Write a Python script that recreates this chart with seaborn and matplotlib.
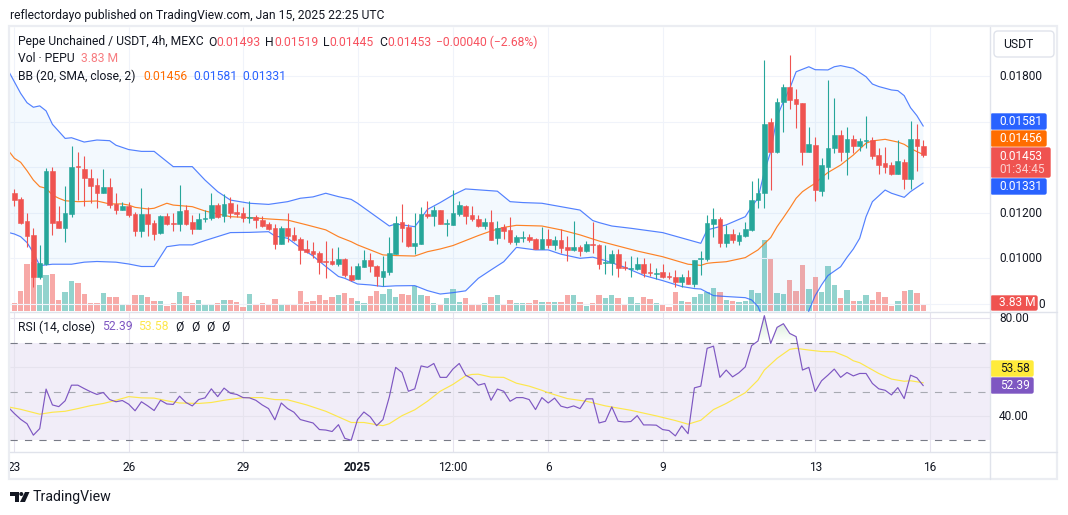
import matplotlib
matplotlib.use("Agg")
import matplotlib.pyplot as plt
from matplotlib.patches import FancyBboxPatch, Polygon, Rectangle, Circle
from matplotlib.path import Path
from matplotlib.transforms import ScaledTranslation
import numpy as np
import pandas as pd
import seaborn as sns

# OHLC per 4h bar, in units of 0.00001 USDT
opens = [
    1286, 1261, 1164, 1103, 920, 975, 1384, 1164, 1135, 1196, 1405, 1393, 1353, 1322, 1289, 1314, 1239, 1214, 1229, 1195,
    1122, 1195, 1155, 1110, 1186, 1157, 1149, 1213, 1160, 1130, 1171, 1176, 1234, 1186, 1243, 1204, 1199, 1179, 1183, 1169,
    1152, 1135, 1063, 1135, 1103, 1085, 1043, 1032, 1024, 988, 988, 974, 997, 927, 911, 962, 993, 966, 918, 941,
    1021, 1160, 1136, 1054, 1065, 1195, 1186, 1212, 1151, 1148, 1195, 1230, 1191, 1173, 1142, 1160, 1089, 1136, 1125, 1072,
    1091, 1094, 1085, 1041, 1085, 1059, 1081, 1050, 1037, 1050, 1032, 1062, 1059, 981, 978, 1019, 962, 955, 952, 975,
    939, 933, 940, 922, 918, 896, 918, 887, 999, 996, 1151, 1173, 1067, 1106, 1076, 1098, 1125, 1256, 1289, 1598,
    1466, 1686, 1753, 1700, 1683, 1469, 1497, 1297, 1402, 1485, 1541, 1469, 1525, 1495, 1517, 1519, 1454, 1419, 1410, 1371,
    1423, 1349, 1525, 1493]
highs = [
    1305, 1268, 1198, 1132, 1059, 1396, 1400, 1230, 1318, 1494, 1469, 1450, 1393, 1355, 1393, 1352, 1289, 1249, 1249, 1205,
    1309, 1227, 1169, 1191, 1198, 1198, 1322, 1234, 1191, 1198, 1213, 1289, 1242, 1281, 1268, 1239, 1227, 1252, 1191, 1186,
    1161, 1151, 1142, 1201, 1139, 1095, 1081, 1073, 1032, 1076, 1047, 1051, 1000, 966, 978, 1037, 1025, 971, 1010, 1092,
    1186, 1239, 1151, 1198, 1227, 1252, 1230, 1212, 1173, 1300, 1252, 1234, 1230, 1191, 1176, 1212, 1166, 1151, 1180, 1103,
    1122, 1107, 1088, 1139, 1129, 1098, 1128, 1098, 1164, 1059, 1076, 1161, 1062, 1057, 1037, 1040, 988, 1010, 1007, 1003,
    981, 959, 974, 940, 949, 931, 949, 993, 1032, 1190, 1223, 1180, 1147, 1129, 1117, 1161, 1341, 1352, 1872, 1615,
    1703, 1765, 1894, 1744, 1683, 1576, 1533, 1440, 1784, 1703, 1566, 1576, 1542, 1530, 1626, 1535, 1486, 1491, 1422, 1520,
    1435, 1604, 1590, 1519]
lows = [
    1232, 1151, 1051, 876, 909, 971, 1103, 1132, 1073, 1183, 1256, 1232, 1242, 1223, 1286, 1223, 1196, 1211, 1182, 1100,
    1095, 1100, 1082, 1107, 1147, 1120, 1122, 1147, 1107, 1129, 1161, 1169, 1179, 1161, 1176, 1183, 1161, 1154, 1132, 1139,
    1125, 1041, 1062, 1073, 1076, 975, 1022, 1000, 930, 912, 971, 968, 920, 900, 908, 961, 941, 878, 878, 928,
    1019, 1073, 1051, 1019, 1063, 1176, 1142, 1151, 1098, 1147, 1188, 1151, 1166, 1136, 1129, 1081, 1063, 1084, 1063, 1059,
    1070, 1073, 1040, 1040, 1047, 1037, 1025, 990, 1031, 1010, 1029, 1022, 953, 931, 927, 918, 949, 918, 949, 918,
    922, 909, 912, 909, 875, 875, 886, 875, 927, 988, 1095, 1051, 1051, 1066, 1059, 1095, 1122, 1223, 1223, 1300,
    1465, 1554, 1656, 1574, 1410, 1466, 1253, 1274, 1349, 1465, 1428, 1366, 1463, 1472, 1484, 1437, 1371, 1375, 1366, 1369,
    1305, 1305, 1384, 1445]
closes = [
    1256, 1154, 1100, 920, 978, 1384, 1155, 1135, 1198, 1402, 1400, 1355, 1318, 1289, 1314, 1234, 1214, 1232, 1191, 1122,
    1195, 1152, 1107, 1186, 1151, 1152, 1208, 1151, 1130, 1173, 1179, 1234, 1183, 1239, 1199, 1196, 1179, 1182, 1170, 1142,
    1129, 1063, 1135, 1098, 1081, 1037, 1028, 1021, 984, 982, 974, 997, 925, 905, 966, 993, 966, 922, 944, 1023,
    1154, 1135, 1054, 1066, 1195, 1186, 1212, 1151, 1154, 1198, 1234, 1188, 1173, 1142, 1160, 1081, 1133, 1120, 1072, 1094,
    1094, 1081, 1041, 1085, 1059, 1081, 1044, 1037, 1050, 1032, 1065, 1059, 975, 985, 1019, 959, 959, 958, 975, 937,
    936, 936, 918, 919, 896, 918, 887, 993, 1002, 1155, 1173, 1066, 1106, 1081, 1101, 1129, 1256, 1289, 1590, 1469,
    1686, 1753, 1695, 1680, 1469, 1503, 1300, 1410, 1485, 1541, 1469, 1525, 1495, 1517, 1520, 1451, 1410, 1403, 1369, 1428,
    1349, 1525, 1493, 1453]

# Volume per bar, millions of PEPU
volumes = [
    4.4, 11.2, 26.6, 28.0, 14.6, 20.3, 20.9, 6.1, 10.6, 16.9, 15.8, 9.5, 4.4, 4.8, 10.1, 7.8, 7.8, 3.2, 4.0, 8.9,
    8.9, 7.8, 5.5, 5.5, 2.7, 4.4, 10.6, 8.4, 4.4, 6.1, 3.2, 3.8, 4.4, 6.1, 6.1, 4.9, 2.1, 9.5, 3.8, 4.4,
    3.2, 6.7, 3.8, 3.8, 3.8, 11.2, 4.9, 5.5, 8.9, 6.1, 7.8, 8.9, 10.3, 7.6, 5.9, 4.8, 8.7, 11.6, 9.9, 12.2,
    8.2, 9.9, 9.3, 13.9, 9.3, 8.7, 4.8, 3.6, 7.6, 12.2, 5.3, 7.6, 4.2, 4.2, 4.8, 8.2, 9.3, 4.2, 6.5, 4.8,
    4.8, 4.8, 6.5, 5.3, 5.3, 5.3, 5.3, 9.3, 9.3, 5.3, 3.0, 4.8, 9.3, 7.6, 9.3, 7.6, 4.2, 8.2, 4.8, 8.2,
    7.0, 4.8, 3.6, 2.5, 10.5, 5.9, 5.3, 7.8, 9.5, 10.6, 12.9, 10.6, 6.1, 5.5, 4.9, 5.5, 11.8, 10.1, 40.3, 30.0,
    10.1, 9.5, 17.5, 11.2, 26.0, 12.4, 19.2, 10.6, 25.5, 14.6, 7.2, 11.8, 5.5, 5.5, 8.9, 6.1, 10.6, 7.8, 2.7, 5.5,
    11.2, 11.8, 10.1, 3.83]

# Bollinger Bands: bar number and level (0.00001 USDT) of each line's vertices
bb_upper_bars = [-1, 1, 2, 3, 4, 5, 6, 8, 9, 11, 13, 15, 16, 18, 20, 22, 25, 28, 30, 32, 34, 37, 40, 43, 45, 47, 49, 51, 53,
                 54, 56, 59, 60, 63, 64, 65, 67, 69, 71, 72, 76, 78, 80, 83, 85, 89, 91, 92, 94, 97, 102, 108,
                 109, 110, 112, 115, 116, 117, 118, 119, 120, 121, 122, 123, 125, 126, 128, 129, 130, 132, 134, 135,
                 136, 138, 139, 140, 141, 142, 143]
bb_upper = [1828, 1725, 1684, 1664, 1670, 1648, 1589, 1527, 1530, 1511, 1520, 1517, 1497, 1478, 1470, 1470, 1403, 1403, 1344,
            1293, 1256, 1242, 1237, 1249, 1264, 1270, 1286, 1271, 1259,
            1242, 1202, 1142, 1151, 1139, 1176, 1215, 1245, 1278, 1305, 1303, 1295, 1249, 1245, 1242, 1232, 1212, 1166, 1157,
            1142, 1132, 1113, 1066,
            1125, 1132, 1147, 1183, 1227, 1264, 1381, 1469, 1623, 1689, 1747, 1820, 1842, 1829, 1828, 1842, 1847, 1835, 1798,
            1766, 1755, 1740, 1737, 1715, 1662, 1627, 1581]
bb_basis_bars = [-1, 0, 1, 2, 3, 4, 5, 6, 7, 8, 10, 13, 15, 17, 18, 19, 21, 22, 24, 25, 28, 30, 32, 34, 37, 40, 43, 46, 49, 51, 53,
                 54, 56, 58, 60, 63, 65, 67, 69, 71, 73, 75, 77, 79, 83, 86, 89, 92, 95, 98, 102, 106, 108, 109,
                 110, 112, 115, 117, 119, 120, 121, 122, 123, 124, 125, 126, 127, 128, 130, 132, 134, 135, 137, 139, 140,
                 141, 142, 143]
bb_basis = [1476, 1440, 1422, 1385, 1344, 1315, 1308, 1278, 1264, 1253, 1249, 1252, 1239, 1239, 1234, 1224, 1217, 1220, 1242, 1234,
            1227, 1208, 1195, 1183, 1179, 1173, 1168, 1147, 1125, 1095, 1073,
            1059, 1037, 1015, 1012, 1010, 1029, 1041, 1056, 1078, 1100, 1120, 1136, 1145, 1142, 1125, 1103, 1076, 1054, 1032,
            1007, 974, 969, 978,
            981, 985, 1003, 1037, 1091, 1139, 1179, 1220, 1264, 1293, 1312, 1330, 1355, 1377, 1410, 1454, 1506, 1516, 1523,
            1511, 1501, 1483, 1469, 1456]
bb_lower_bars = [-1, 0, 1, 2, 3, 4, 6, 9, 11, 13, 16, 18, 20, 22, 24, 26, 28, 30, 34, 37, 40, 41, 43, 45, 47, 49, 51, 52,
                 54, 56, 58, 60, 63, 65, 67, 69, 71, 73, 75, 77, 79, 82, 84, 86, 89, 91, 93, 96, 99, 102, 105, 107, 108,
                 110, 112, 115, 116, 117, 118, 119, 120, 121, 122, 123, 124, 125, 126, 127, 128, 130, 131, 132, 133, 134, 135,
                 137, 138, 140, 141, 142, 143]
bb_lower = [1114, 1107, 1095, 1069, 1025, 968, 974, 974, 983, 986, 983, 975, 964, 964, 1051, 1059, 1059, 1078, 1113, 1114, 1117,
            1098, 1088, 1047, 1010, 964, 920, 912,
            887, 883, 876, 879, 880, 858, 843, 849, 857, 912, 949, 985, 1048, 1037, 1037, 1018, 1000, 1005, 990, 961, 925, 902,
            876, 867, 865,
            836, 832, 827, 817, 788, 720, 640, 560, 500, 480, 500, 620, 770, 836, 883, 924, 963, 1004, 1041, 1088, 1183, 1249,
            1300, 1286, 1268, 1293, 1312, 1331]

# RSI (14) for bars -1..143, and its moving average
rsi_values = [
    43.7, 41.0, 38.6, 36.8, 32.1, 34.8, 51.0, 44.5, 43.8, 46.2, 52.6, 52.6, 51.2, 49.9, 48.8, 49.6, 46.7, 45.8, 46.3, 44.8,
    42.1, 45.8, 44.1, 42.2, 46.4, 44.9, 44.7, 48.1, 45.5, 44.1, 46.7, 47.4, 51.1, 47.9, 51.4, 49.3, 48.8, 47.5, 47.4, 46.4,
    44.5, 43.0, 38.4, 45.3, 43.0, 41.5, 38.5, 37.8, 37.1, 34.4, 34.2, 33.6, 36.4, 30.8, 30.0, 38.5, 41.6, 39.6, 36.0, 38.5,
    47.8, 59.9, 57.8, 50.1, 51.1, 60.5, 59.9, 61.5, 55.8, 55.8, 59.2, 61.5, 56.7, 55.3, 52.6, 53.3, 46.4, 51.0, 50.1, 46.0,
    47.5, 47.5, 46.7, 42.6, 47.5, 45.3, 47.3, 44.0, 43.3, 44.1, 43.0, 47.0, 47.0, 37.1, 37.8, 43.7, 37.8, 37.5, 37.7, 40.1,
    36.3, 36.3, 36.2, 34.4, 34.0, 31.8, 35.9, 32.7, 51.5, 52.2, 67.7, 68.6, 55.8, 58.8, 56.0, 57.7, 60.1, 68.8, 70.7, 81.1,
    69.7, 76.3, 77.8, 73.8, 72.5, 58.8, 59.9, 50.0, 54.4, 56.7, 59.2, 55.8, 57.8, 56.4, 57.4, 57.4, 53.3, 51.1, 50.5, 48.6,
    51.6, 47.1, 56.7, 55.6, 52.39]
rsi_ma_bars = [-1, 1, 4, 6, 8, 10, 12, 14, 16, 18, 20, 22, 24, 26, 29, 31, 33, 36, 39, 41, 43, 46, 49, 51, 53, 55, 57, 58, 59,
               61, 63, 65, 67, 69, 71, 72, 73, 75, 77, 79, 81, 83, 84, 87, 90, 93, 97, 101, 104, 106, 108, 110, 112, 115,
               117, 118, 120, 122, 123, 125, 127, 129, 131, 132, 133, 136, 138, 140, 141, 143]
rsi_ma = [43.7, 42.7, 40.7, 41.5, 41.9, 43.0, 44.2, 45.1, 46.4, 47.9, 47.4, 47.3, 46.2, 45.3, 45.1, 45.5, 46.4, 47.5, 47.5, 46.7,
          46.6, 44.5, 41.9, 39.6, 37.3, 37.3, 36.4, 36.0, 36.8, 40.1, 42.5, 46.0, 50.1, 52.9, 56.4, 57.0, 57.1, 55.9, 55.8, 53.4,
          52.2, 50.5, 49.5, 47.1, 46.0, 44.1, 42.3, 40.0, 38.1, 36.6, 38.2, 42.6, 45.1, 49.5, 54.7, 58.8, 63.6, 67.3, 67.7, 67.0,
          66.4, 66.3, 64.2, 62.6, 61.8, 57.4, 55.1, 54.2, 54.4, 53.58]

# Time axis and value axes
tick_bars = [0, 18, 36, 54, 69, 84, 102, 126, 144]
tick_labels = ["23", "26", "29", "2025", "12:00", "6", "9", "13", "16"]
price_ticks = [0.008, 0.010, 0.012, 0.014, 0.016, 0.018]
price_tick_labels = ["", "0.01000", "0.01200", "", "", "0.01800"]
rsi_ticks = [40, 60, 80]
rsi_tick_labels = ["40.00", "", "80.00"]

UP, DOWN = "#26a69a", "#ef5350"
INK = "#131722"
LINE = "#e0e3eb"
GRID = "#f0f3fa"
WIDTH, HEIGHT = 1068, 515

sns.set_theme(style="white")
plt.rcParams["font.family"] = ["Roboto", "DejaVu Sans"]
plt.rcParams["font.size"] = 8.7

bars = np.arange(len(closes))
o, h, l, c = [np.array(a) / 1e5 for a in (opens, highs, lows, closes)]
rising = c >= o
frame = pd.DataFrame({"bar": bars, "volume": volumes})

fig = plt.figure(figsize=(WIDTH / 100, HEIGHT / 100), dpi=100, facecolor="white")


def pane(x0, x1, y0, y1, **kw):
    return fig.add_axes([x0 / WIDTH, 1 - y1 / HEIGHT, (x1 - x0) / WIDTH, (y1 - y0) / HEIGHT], **kw)


XLIM = (-0.676, 153.5)
ONE_PIXEL_UP = ScaledTranslation(0, 1 / 100, fig.dpi_scale_trans)

# Volume sits behind the price pane on its own scale
ax_vol = pane(10, 990, 27, 311)
ax_vol.set_zorder(1)
sns.barplot(data=frame, x="bar", y="volume", native_scale=True, width=0.8, saturation=1,
            color="#92d3cd", errorbar=None, ax=ax_vol)
for patch, bar, up in zip(ax_vol.patches, bars, rising):
    patch.set_x(bar - 0.42)
    patch.set_width(0.84)
    patch.set_facecolor("#92d3cd" if up else "#f7a9a7")
    patch.set_edgecolor("none")
    patch.set_zorder(2)
ax_vol.set_ylim(0, 161)
ax_vol.set_xlim(*XLIM)
ax_vol.set_xticks([])
ax_vol.set_yticks([])
ax_vol.set_xlabel("")
ax_vol.set_ylabel("")
for s in ax_vol.spines.values():
    s.set_visible(False)
ax_vol.vlines(tick_bars, 0, 161, color=GRID, lw=0.8, zorder=0)

# Price pane
ax = pane(10, 990, 27, 311.5)
ax.set_zorder(2)
ax.patch.set_alpha(0)
ax.set_ylim(0.007662, 0.020167)
ax.hlines(price_ticks, *XLIM, color=GRID, lw=0.8, zorder=0)

ux, uy = np.array(bb_upper_bars), np.array(bb_upper) / 1e5
mx, my = np.array(bb_basis_bars), np.array(bb_basis) / 1e5
lx, ly = np.array(bb_lower_bars), np.array(bb_lower) / 1e5
ax.fill(np.r_[ux, lx[::-1]], np.r_[uy, ly[::-1]], color="#2196f3", alpha=0.05, lw=0, zorder=1)
line_kw = dict(estimator=None, sort=False, legend=False, ax=ax, zorder=2)
sns.lineplot(x=ux, y=uy, color="#2962ff", lw=0.85, alpha=0.8, **line_kw)
sns.lineplot(x=lx, y=ly, color="#2962ff", lw=0.85, alpha=0.8, **line_kw)
sns.lineplot(x=mx, y=my, color="#ff6d00", lw=0.85, alpha=0.85, **line_kw)

colors = np.where(rising, UP, DOWN)
ax.vlines(bars, l, h, colors=colors, lw=0.8, zorder=3)
ax.bar(bars, np.abs(c - o), bottom=np.minimum(o, c), width=0.74, color=colors,
       edgecolor=colors, lw=0.4, zorder=4)

ax.set_xlim(*XLIM)
ax.set_xticks([])
ax.yaxis.tick_right()
ax.set_yticks(price_ticks)
ax.set_yticklabels(price_tick_labels, color=INK)
ax.tick_params(axis="y", length=0, pad=6.5, labelsize=8.6)
for s in ax.spines.values():
    s.set_visible(False)
for tick in ax.get_yticklabels():
    tick.set_transform(tick.get_transform() + ONE_PIXEL_UP)

# RSI pane
ax_rsi = pane(10, 990, 312, 452)
ax_rsi.set_ylim(25.2, 82.6)
ax_rsi.axhspan(30, 70, color="#7e57c2", alpha=0.1, lw=0, zorder=0)
ax_rsi.hlines(rsi_ticks, *XLIM, color="#e6e3ee", lw=0.8, zorder=1)
ax_rsi.vlines(tick_bars, 25.2, 82.6, color="#e6e3ee", lw=0.8, zorder=1)
ax_rsi.hlines([70, 30], *XLIM, color="#787b86", lw=0.8, linestyles=(0, (6.5, 6.5)), zorder=2)
ax_rsi.hlines(50, *XLIM, color="#a8aab2", lw=0.8, linestyles=(0, (6.5, 6.5)), zorder=2)

rsi_x = np.arange(-1, len(rsi_values) - 1)
rsi_y = np.array(rsi_values)

# Overbought shading fades from green at the top to nothing at the 70 line
shade = ax_rsi.fill_between(rsi_x, rsi_y, 70, where=rsi_y >= 70, interpolate=True, color="none", lw=0)
shade_path = Path.make_compound_path(*shade.get_paths())
ramp = np.zeros((64, 1, 4))
ramp[..., :3] = matplotlib.colors.to_rgb("#4caf50")
ramp[:, 0, 3] = np.linspace(0.28, 0.0, 64)
glow = ax_rsi.imshow(ramp, extent=(XLIM[0], XLIM[1], 70, 82), aspect="auto", origin="upper", zorder=2)
glow.set_clip_path(shade_path, transform=ax_rsi.transData)

rsi_kw = dict(estimator=None, sort=False, legend=False, ax=ax_rsi, zorder=3)
sns.lineplot(x=np.array(rsi_ma_bars), y=np.array(rsi_ma), color="#fde74c", lw=0.85, **rsi_kw)
sns.lineplot(x=rsi_x, y=rsi_y, color="#7e57c2", lw=0.85, **rsi_kw)
ax_rsi.set_xlim(*XLIM)
ax_rsi.set_ylim(25.2, 82.6)
ax_rsi.set_xticks(tick_bars)
ax_rsi.set_xticklabels(tick_labels, color=INK)
ax_rsi.get_xticklabels()[3].set_fontweight("bold")
ax_rsi.tick_params(axis="x", length=0, pad=6.5, labelsize=8.6)
ax_rsi.yaxis.tick_right()
ax_rsi.set_yticks(rsi_ticks)
ax_rsi.set_yticklabels(rsi_tick_labels, color=INK)
ax_rsi.tick_params(axis="y", length=0, pad=6.5, labelsize=8.6)
ax_rsi.set_xlabel("")
ax_rsi.set_ylabel("")
for s in ax_rsi.spines.values():
    s.set_visible(False)
for tick in ax_rsi.get_yticklabels():
    tick.set_transform(tick.get_transform() + ONE_PIXEL_UP)

# Chart furniture drawn in a full-figure layer measured in pixels
top = fig.add_axes([0, 0, 1, 1], zorder=10)
top.set_xlim(0, WIDTH)
top.set_ylim(HEIGHT, 0)
top.axis("off")
top.patch.set_alpha(0)


def label(x, y, s, color=INK, size=8.7, **kw):
    top.text(x, y, s, color=color, fontsize=size, va="center", **kw)


def tag(x0, x1, y0, y1, color):
    top.add_patch(FancyBboxPatch((x0, y0 + 1), x1 - x0 - 1, y1 - y0 - 2, boxstyle="round,pad=0,rounding_size=1.5",
                                 fc=color, ec=color, lw=1))


top.add_patch(Rectangle((0, 454), 9, 24, fc="white", ec="none"))
top.add_patch(Rectangle((9, 26), 1048, 453, fc="none", ec="#ebedf2", lw=1.6))
top.plot([990, 990], [27, 479], color=LINE, lw=1)
top.plot([10, 1057], [312, 312], color=LINE, lw=1)
top.plot([10, 1057], [452, 452], color=LINE, lw=1)

RED = "#f7525f"
label(10, 15, "reflectordayo published on TradingView.com, Jan 15, 2025 22:25 UTC")
label(18, 42, "Pepe Unchained / USDT, 4h, MEXC")
for x, s, col in [(208, "O", INK), (216, "0.01493", RED), (265, "H", INK), (274, "0.01519", RED),
                  (323, "L", INK), (329, "0.01445", RED), (379, "C", INK), (387, "0.01453", RED),
                  (436, "−0.00040 (−2.68%)", RED)]:
    label(x, 42, s, col)
label(18, 59, "Vol · PEPU")
label(81, 59, "3.83 M", "#f77c80")
label(18, 76, "BB (20, SMA, close, 2)")
label(143, 76, "0.01456", "#ff6d00")
label(193, 76, "0.01581", "#2962ff")
label(242, 76, "0.01331", "#2962ff")
label(18, 327, "RSI (14, close)")
label(102, 327, "52.39", "#7e57c2")
label(138, 327, "53.58", "#fde74c")
for x in (179, 195, 210, 225):
    label(x, 327, "Ø", ha="center")

top.add_patch(FancyBboxPatch((994, 31), 60, 26, boxstyle="round,pad=0,rounding_size=4", fc="white", ec=LINE, lw=1))
label(1018, 44.5, "USDT", ha="center")

tag(991, 1047, 113, 130, "#2962ff")
label(999, 121.5, "0.01581", "white", 8.6)
tag(991, 1047, 130, 147, "#ff6d00")
label(999, 138.5, "0.01456", "white", 8.6)
tag(991, 1051, 147, 178, DOWN)
label(999, 156, "0.01453", "white", 8.6)
label(999, 169.5, "01:34:45", "#fbd0cf", 8.6)
tag(991, 1047, 178, 195, "#2962ff")
label(999, 186.5, "0.01331", "white", 8.6)
label(1038.5, 304, "0", INK, 8.6)
tag(991, 1038, 295, 311, DOWN)
label(999, 303, "3.83 M", "white", 8.6)
tag(991, 1034, 360, 377, "#ffeb3b")
label(1000, 368.5, "53.58", INK, 8.6)
tag(991, 1034, 377, 394, "#7e57c2")
label(1000, 385.5, "52.39", "white", 8.6)

# Brand mark and wordmark
top.add_patch(Polygon([(10, 492), (19, 492), (19, 502), (15, 502), (15, 496), (10, 496)], fc=INK, ec="none"))
top.add_patch(Circle((21.3, 494), 2, fc=INK, ec="none"))
top.add_patch(Polygon([(25, 492), (29.5, 492), (25, 502), (20, 502)], fc=INK, ec="none"))
label(33, 497, "TradingView", INK, 10.2)

fig.savefig("out.png", dpi=100)
